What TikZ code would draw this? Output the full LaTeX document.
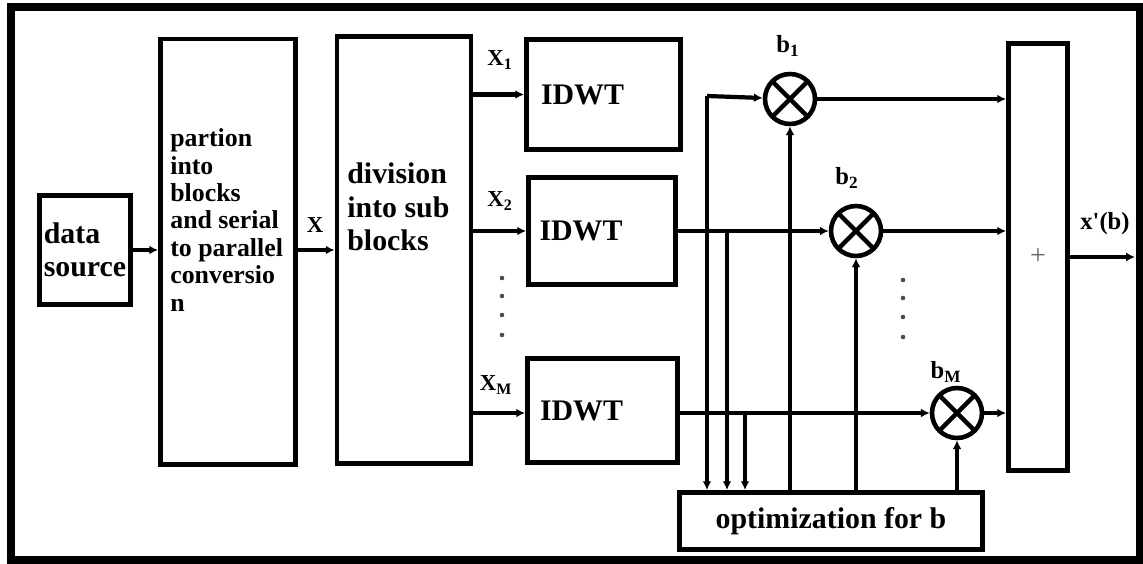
\documentclass[tikz,border=0pt]{standalone}
\usepackage{fontspec}
\setmainfont{Liberation Serif}
\usepackage{tikz}
\usetikzlibrary{arrows.meta,positioning,calc}

\begin{document}
\begin{tikzpicture}[x=0.02cm, y=-0.02cm, >=Latex,
  blk/.style={draw, line width=2.8pt, inner sep=0pt, align=left},
  idwtbox/.style={blk, text width=2.5cm, font=\bfseries\fontsize{17}{19}\selectfont},
  txt/.style={inner sep=0pt, align=left, anchor=west},
  mult/.style={circle, draw, line width=2.6pt, minimum size=1cm, inner sep=0pt,
    path picture={\draw[line width=2.6pt] (path picture bounding box.north west) -- (path picture bounding box.south east)
      (path picture bounding box.north east) -- (path picture bounding box.south west);}},
  lbl/.style={inner sep=0pt, font=\bfseries\fontsize{14}{16}\selectfont},
  arr/.style={-{Latex[length=5pt,width=5pt]}, line width=2.4pt}]
\useasboundingbox (0,0) rectangle (1143,564);
\draw[line width=4pt] (11,7) rectangle (1140,560);

\node[blk, minimum width=1.82cm, minimum height=2.18cm, font=\bfseries\fontsize{17}{19}\selectfont] (src) at (85,250) {data\\source};
\node[blk, minimum width=2.7cm, minimum height=8.52cm] (part) at (228,252) {};
\node[txt, font=\bfseries\fontsize{14.7}{15.6}\selectfont] (parttxt) at (170,220) {partion\\into\\blocks\\and serial\\to parallel\\conversio\\n};
\node[blk, minimum width=2.68cm, minimum height=8.54cm] (div) at (404,250) {};
\node[txt, font=\bfseries\fontsize{17}{19}\selectfont] (divtxt) at (347,207) {division\\into sub\\blocks};

\node[idwtbox, minimum width=3.08cm, minimum height=2.2cm] (idwt1) at (603.5,94.5) {IDWT};
\node[idwtbox, minimum width=2.94cm, minimum height=2.14cm] (idwt2) at (602,231) {IDWT};
\node[idwtbox, minimum width=3.0cm, minimum height=2.08cm] (idwt3) at (602.5,410.5) {IDWT};

\node[mult] (b1) at (790,99) {};
\node[mult] (b2) at (856,231) {};
\node[mult] (bM) at (957,413) {};
\node[blk, minimum width=6.06cm, minimum height=1.14cm, font=\bfseries\fontsize{17}{19}\selectfont] (opt) at (831,521) {optimization for b};
\node[blk, minimum width=1.18cm, minimum height=8.54cm, font=\fontsize{16}{18}\selectfont, text=black!60] (sum) at (1038,257) {+};

\node[lbl, font=\bfseries\fontsize{13}{15}\selectfont] (lx) at (315,225) {X};
\node[lbl, font=\bfseries\fontsize{13}{15}\selectfont] (lx1) at (500,60) {X\textsubscript{1}};
\node[lbl, font=\bfseries\fontsize{13}{15}\selectfont] (lx2) at (500,201) {X\textsubscript{2}};
\node[lbl, font=\bfseries\fontsize{13}{15}\selectfont] (lxM) at (496,385) {X\textsubscript{M}};
\node[lbl] (lb1) at (788,46) {b\textsubscript{1}};
\node[lbl] (lb2) at (847,178) {b\textsubscript{2}};
\node[lbl] (lbM) at (946,372) {b\textsubscript{M}};
\node[lbl] (lout) at (1105,224) {x\textquotesingle(b)};

\coordinate (tap1) at (707,96);
\coordinate (tap2) at (727,231);
\coordinate (tap3) at (745,413);
\coordinate (out) at (1135,257);

\draw[arr] (src) -- (src -| part.west);
\draw[arr] (part.east |- src) -- (src -| div.west);
\draw[arr] (div.east |- idwt1) -- (idwt1);
\draw[arr] (div.east |- idwt2) -- (idwt2);
\draw[arr] (div.east |- bM) -- (bM -| idwt3.west);

\draw[arr] (tap1) -- (b1);
\draw[arr] (idwt2) -- (b2);
\draw[arr] (idwt3.east |- bM) -- (bM);
\draw[arr] (tap1) -- (tap1 |- opt.north);
\draw[arr] (tap2) -- (tap2 |- opt.north);
\draw[arr] (tap3) -- (tap3 |- opt.north);

\draw[arr] (opt.north -| b1) -- (b1);
\draw[arr] (opt.north -| b2) -- (b2);
\draw[arr] (opt.north -| bM) -- (bM);

\draw[arr] (b1) -- (b1 -| sum.west);
\draw[arr] (b2) -- (b2 -| sum.west);
\draw[arr] (bM) -- (bM -| sum.west);
\draw[arr] (sum.east |- out) -- (out);

\foreach \y in {278,296,315,335} {
  \fill[black!70] (502,\y) circle (1.3pt);
  \fill[black!70] (903,\y+2) circle (1.3pt);
}
\end{tikzpicture}
\end{document}
